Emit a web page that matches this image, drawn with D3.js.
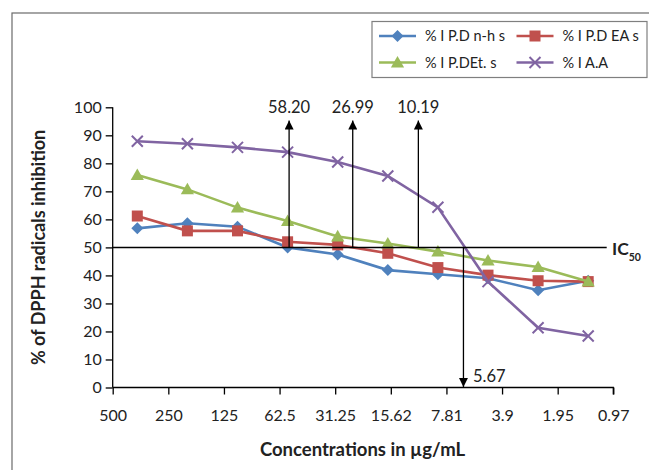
<!DOCTYPE html>
<html><head><meta charset="utf-8">
<script src="https://cdn.jsdelivr.net/npm/d3@7"></script>
<style>body{margin:0;background:#fff}svg{display:block}text{font-family:Lato,"Open Sans",sans-serif}</style>
</head><body><svg id="c" width="649" height="470"></svg>
<script>
const concLabels = ["500","250","125","62.5","31.25","15.62","7.81","3.9","1.95","0.97"];
const nhs  = [56.8,58.6,57.4,50.0,47.5,41.9,40.4,39.0,34.7,38.1];
const eas  = [61.2,55.9,55.9,52.0,50.9,47.9,42.8,40.1,38.1,37.8];
const ets  = [75.8,70.7,64.2,59.4,53.9,51.4,48.5,45.3,43.0,37.8];
const aa   = [87.9,87.0,85.7,84.0,80.5,75.5,64.3,37.8,21.3,18.4];
const seriesNames = ["% I P.D n-h s","% I P.D EA s","% I P.DEt. s","% I A.A"];
const yTicks = [0,10,20,30,40,50,60,70,80,90,100];
const ic50Labels = ["58.20","26.99","10.19"];
const ic50Pos = [3.03,4.30,5.61];      // positions along the data index axis
const aaIc50Label = "5.67";
const aaIc50Pos = 6.51;
const ic50Level = 50;

const svg = d3.select("#c");
const colors = ["#4F81BD","#C0504D","#9BBB59","#8064A2"];
const shapes = ["diamond","square","triangle","x"];
const data = [nhs,eas,ets,aa];

// outer chart border
svg.append("rect").attr("x",12).attr("y",13).attr("width",700).attr("height",520)
  .attr("fill","none").attr("stroke","#6b6b6b").attr("stroke-width",1.2);

const y = d3.scaleLinear().domain([0,100]).range([387.5,107.3]);
const xTick = d3.scalePoint().domain(concLabels).range([112.7,613.3]);
const xIdx = d3.scaleLinear().domain([0,9]).range([137.3,588.2]);

// y axis
const yAxis = svg.append("g").attr("transform","translate(112.7,0)")
  .call(d3.axisLeft(y).tickValues(yTicks).tickSize(7).tickPadding(4).tickFormat(d3.format("d")));
yAxis.select(".domain").attr("stroke","#000").attr("stroke-width",1.3).attr("d","M0,"+y(0)+"V"+y(100));
yAxis.selectAll(".tick line").attr("stroke","#000").attr("stroke-width",1.3);
yAxis.selectAll("text").attr("font-size",16).attr("fill","#222").style("font-family","Lato,sans-serif");

// x axis
const xAxis = svg.append("g").attr("transform","translate(0,"+y(0)+")")
  .call(d3.axisBottom(xTick).tickSize(7).tickPadding(15));
xAxis.select(".domain").attr("stroke","#000").attr("stroke-width",1.3).attr("d","M112.7,0H613.3V7");
xAxis.selectAll(".tick line").attr("stroke","#000").attr("stroke-width",1.3);
xAxis.selectAll("text").attr("font-size",16).attr("fill","#222").style("font-family","Lato,sans-serif");

// axis titles
svg.append("text").attr("transform","translate(45,"+y(50)+") rotate(-90)")
  .attr("text-anchor","middle").attr("font-size",18).attr("font-weight","bold").attr("fill","#222")
  .text("% of DPPH radicals inhibition");
svg.append("text").attr("x",362.5).attr("y",456).attr("text-anchor","middle")
  .attr("font-size",18.5).attr("font-weight","bold").attr("fill","#222").text("Concentrations in µg/mL");

// markers
function marker(g, shape, color, cx, cy, s){
  if(shape==="diamond"){
    g.append("path").attr("d",`M${cx},${cy-s*0.6}L${cx+s*0.6},${cy}L${cx},${cy+s*0.6}L${cx-s*0.6},${cy}Z`).attr("fill",color);
  } else if(shape==="square"){
    g.append("rect").attr("x",cx-s/2).attr("y",cy-s/2).attr("width",s).attr("height",s).attr("fill",color);
  } else if(shape==="triangle"){
    g.append("path").attr("d",`M${cx},${cy-s*0.6}L${cx+s*0.6},${cy+s*0.45}L${cx-s*0.6},${cy+s*0.45}Z`).attr("fill",color);
  } else {
    const h=s*0.5;
    g.append("path").attr("d",`M${cx-h},${cy-h}L${cx+h},${cy+h}M${cx-h},${cy+h}L${cx+h},${cy-h}`)
      .attr("stroke",color).attr("stroke-width",2).attr("fill","none");
  }
}
const line = d3.line().x((d,i)=>xIdx(i)).y(d=>y(d));
const sizes=[10,11,11,11];
data.forEach((arr,k)=>{
  const g = svg.append("g");
  g.append("path").datum(arr).attr("d",line).attr("fill","none").attr("stroke",colors[k]).attr("stroke-width",2.6);
  arr.forEach((v,i)=>marker(g,shapes[k],colors[k],xIdx(i),y(v),sizes[k]));
});

// IC50 line and arrows
svg.append("line").attr("x1",112.7).attr("x2",606.7).attr("y1",y(ic50Level)).attr("y2",y(ic50Level))
  .attr("stroke","#000").attr("stroke-width",1.5);
const ic = svg.append("text").attr("x",612).attr("y",y(ic50Level)+8).attr("font-size",17.5).attr("font-weight","bold").attr("fill","#222");
ic.append("tspan").text("IC");
ic.append("tspan").attr("font-size",10.5).attr("dy",6).text("50");

svg.append("defs").append("marker").attr("id","ah").attr("viewBox","0 0 10 10").attr("refX",10).attr("refY",5)
  .attr("markerWidth",9).attr("markerHeight",9).attr("markerUnits","userSpaceOnUse").attr("orient","auto")
  .append("path").attr("d","M0,0L10,5L0,10Z").attr("fill","#000");

ic50Pos.forEach((p,i)=>{
  const x = xIdx(p);
  svg.append("line").attr("x1",x).attr("x2",x).attr("y1",y(ic50Level)).attr("y2",120.5)
    .attr("stroke","#000").attr("stroke-width",1.3).attr("marker-end","url(#ah)");
  svg.append("text").attr("x",x).attr("y",112.5).attr("text-anchor","middle").attr("font-size",16.5).attr("fill","#222").text(ic50Labels[i]);
});
{
  const x = xIdx(aaIc50Pos);
  svg.append("line").attr("x1",x).attr("x2",x).attr("y1",y(ic50Level)).attr("y2",y(0)-0.5)
    .attr("stroke","#000").attr("stroke-width",1.3).attr("marker-end","url(#ah)");
  svg.append("text").attr("x",x+9.5).attr("y",381.5).attr("font-size",16.5).attr("fill","#222").text(aaIc50Label);
}

// legend
const lg = svg.append("g");
lg.append("rect").attr("x",372).attr("y",21.5).attr("width",275).attr("height",56)
  .attr("fill","#fff").attr("stroke","#7f7f7f").attr("stroke-width",1.2);
const lpos = [[379,36],[516.5,36],[379,62.5],[516.5,62.5]];
seriesNames.forEach((n,k)=>{
  const [lx,ly]=lpos[k];
  lg.append("line").attr("x1",lx).attr("x2",lx+37).attr("y1",ly).attr("y2",ly).attr("stroke",colors[k]).attr("stroke-width",2.6);
  marker(lg,shapes[k],colors[k],lx+18.5,ly,sizes[k]);
  lg.append("text").attr("x",lx+46).attr("y",ly+5).attr("font-size",14.5).attr("fill","#222").text(n);
});
</script></body></html>
